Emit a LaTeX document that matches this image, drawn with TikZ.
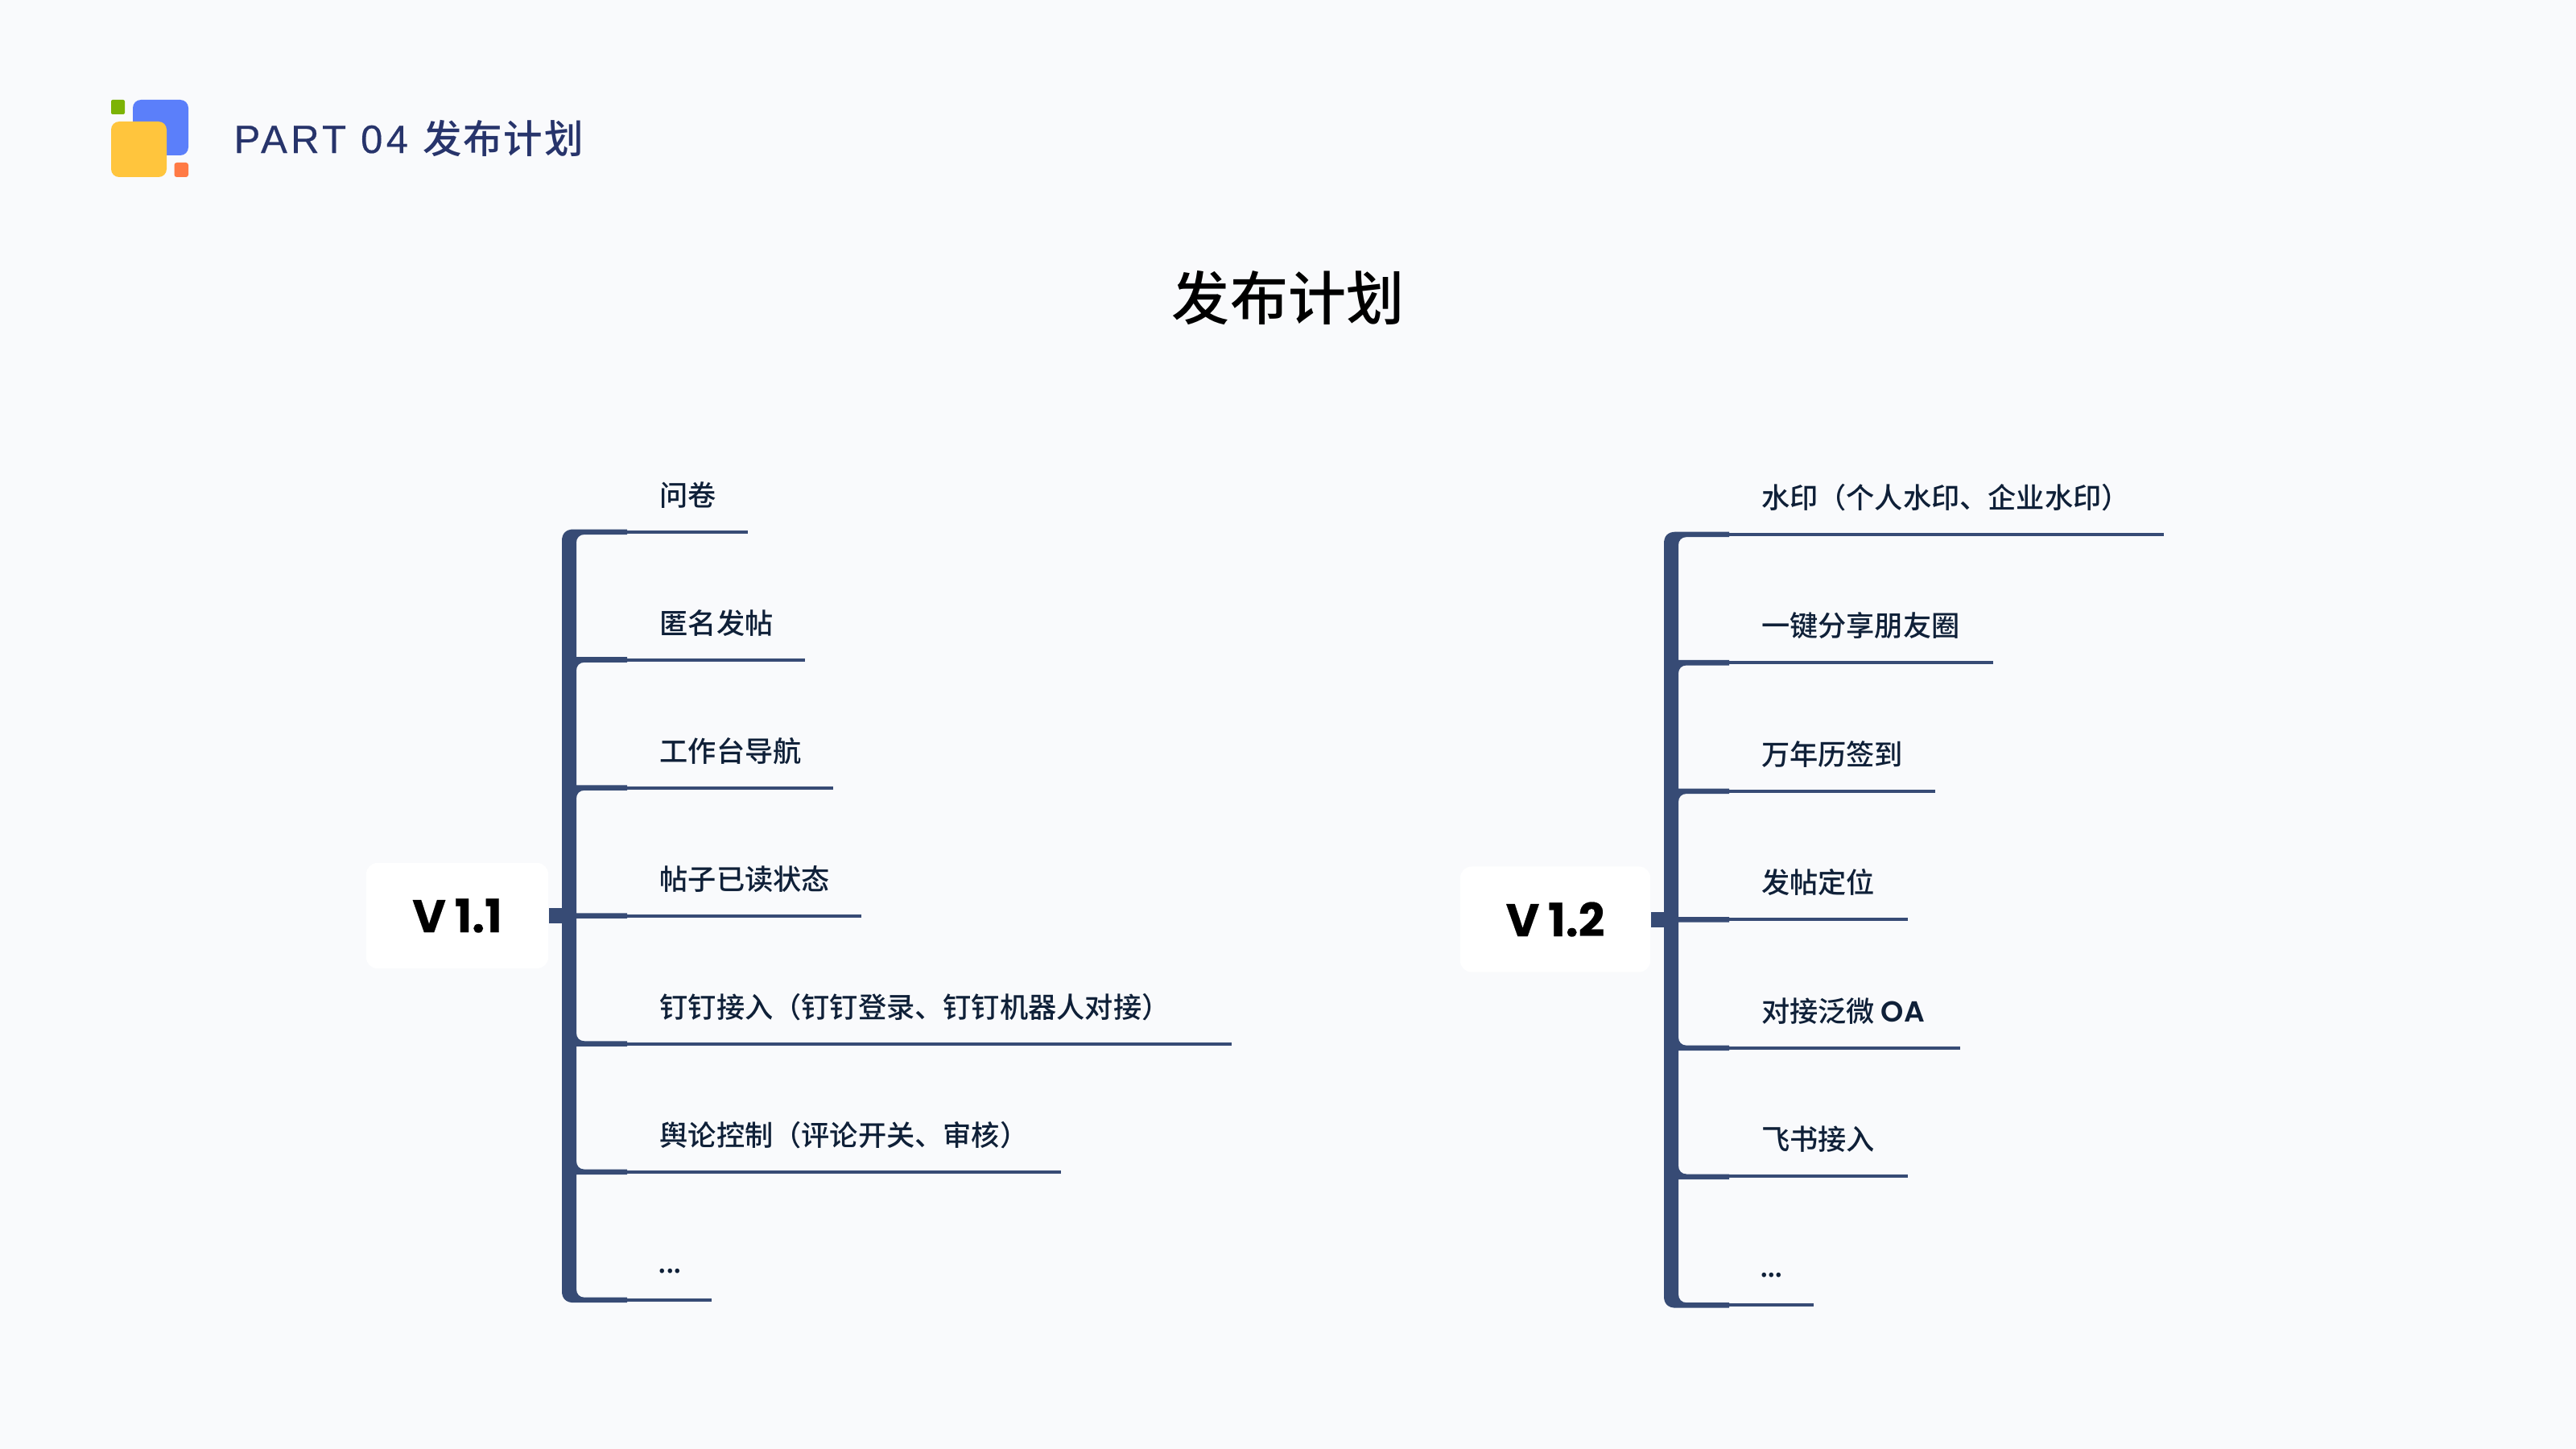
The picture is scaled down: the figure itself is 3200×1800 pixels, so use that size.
\documentclass[tikz,border=0pt]{standalone}
\usepackage{fontspec}
\newfontfamily\cjkm{Noto Sans CJK SC Medium}
\newfontfamily\headfont[LetterSpace=9,FakeBold=0.4]{Liberation Sans}
\newfontfamily\headcjk[LetterSpace=4]{Noto Sans CJK SC Medium}
\newfontfamily\popb[BoldFeatures={FakeBold=0.35}]{Poppins}
\newfontfamily\oafont{Poppins SemiBold}
\newcommand\pxfont[1]{\fontsize{\the\dimexpr 0.02845pt*#1\relax}{\the\dimexpr 0.034pt*#1\relax}\selectfont}
\newcommand\threedots{\kern-0.05em\raisebox{0.04em}{.\kern-0.04em.\kern-0.04em.}}
\definecolor{bgc}{HTML}{F9FAFC}
\definecolor{spinec}{HTML}{374B75}
\definecolor{itemc}{HTML}{0F2038}
\definecolor{headc}{HTML}{27346B}
\definecolor{lblue}{HTML}{5B7FFA}
\definecolor{lyellow}{HTML}{FFC53D}
\definecolor{lgreen}{HTML}{7CB305}
\definecolor{lorange}{HTML}{FF7A45}
\newcommand\treepath{%
 \fill[spinec] (698,672) .. controls (698,662.5) and (703,657.5) .. (713,657.5) -- (779,657.5) -- (779,664) -- (726,664)
  .. controls (720,664) and (716,668) .. (716,674)
  -- (716,816.2) -- (779,816.2) -- (779,822.8) -- (726,822.8) .. controls (720,822.8) and (716,826.8) .. (716,833)
  -- (716,975.3) -- (779,975.3) -- (779,981.8) -- (726,981.8) .. controls (720,981.8) and (716,985.8) .. (716,992)
  -- (716,1134.3) -- (779,1134.3) -- (779,1140.8) -- (716,1140.8)
  -- (716,1283) .. controls (716,1289.3) and (720,1293.3) .. (726,1293.3) -- (779,1293.3) -- (779,1299.8) -- (716,1299.8)
  -- (716,1442) .. controls (716,1448.6) and (720,1452.6) .. (726,1452.6) -- (779,1452.6) -- (779,1459.2) -- (716,1459.2)
  -- (716,1601) .. controls (716,1607.7) and (720,1611.7) .. (726,1611.7) -- (779,1611.7) -- (779,1618.2) -- (713,1618.2)
  .. controls (703,1618.2) and (698,1613) .. (698,1604) -- cycle;}
\begin{document}
\begin{tikzpicture}[x=0.01cm,y=-0.01cm,
  rootbox/.style={fill=white,rounded corners=0.14cm,inner sep=0pt,text=black,font=\popb\bfseries\pxfont{570}},
  item/.style={anchor=base west,inner sep=0pt,text=itemc,font=\cjkm\pxfont{352}},
  thinline/.style={draw=spinec,line width=0.04cm},
  stub/.style={draw=spinec,line width=0.19cm}]
\useasboundingbox (0,0) rectangle (3200,1800);
\fill[bgc] (0,0) rectangle (3200,1800);
% logo
\fill[lgreen,rounded corners=0.02cm] (138,124) rectangle (155,142);
\fill[lblue,rounded corners=0.1cm] (165,124) rectangle (234,193);
\fill[lyellow,rounded corners=0.1cm] (138,151) rectangle (207,220);
\fill[lorange,rounded corners=0.03cm] (216.5,202) rectangle (234,220);
\node[anchor=base west,inner sep=0pt,text=headc] (head) at (290,190) {\headfont\pxfont{490}PART 04 \headcjk\pxfont{485}发布计划};
\node[inner sep=0pt,text=black] (title) at (1600,370) {\cjkm\pxfont{720}发布计划};
% left tree
\treepath
\coordinate (ls) at (698,1137.5);
\node[rootbox,minimum width=2.26cm,minimum height=1.31cm] (v11) at (568,1137.5) {V\kern-0.02em\ 1.1};
\draw[stub] (v11.east) -- (ls);
\foreach \i/\t/\e in {0/问卷/929,1/匿名发帖/1000,2/工作台导航/1035,3/帖子已读状态/1070,4/钉钉接入（钉钉登录、钉钉机器人对接）/1530,5/舆论控制（评论开关、审核）/1318,6/\threedots/884}{
  \pgfmathsetmacro\yy{660.5+159.05*\i}
  \coordinate (la\i) at (779,\yy);
  \coordinate (lb\i) at (\e,\yy);
  \node[item] (lt\i) at (819,\yy-32) {\t};
  \draw[thinline] (la\i) -- (lb\i);
}
% right tree
\begin{scope}[shift={(1369,1142.3)},yscale=1.0035,shift={(0,-1137.5)}]
\treepath
\end{scope}
\coordinate (rs) at (2067,1142);
\node[rootbox,minimum width=2.36cm,minimum height=1.31cm] (v12) at (1932,1142) {V\kern-0.02em\ 1.2};
\draw[stub] (v12.east) -- (rs);
\foreach \i/\t/\e in {0/水印（个人水印、企业水印）/2688,1/一键分享朋友圈/2476,2/万年历签到/2404,3/发帖定位/2370,4/{对接泛微 {\oafont\pxfont{360}OA}}/2435,5/飞书接入/2370,6/\threedots/2253}{
  \pgfmathsetmacro\yy{663.7+159.55*\i}
  \pgfmathsetmacro\xa{2148}
  \coordinate (ra\i) at (\xa,\yy);
  \coordinate (rb\i) at (\e,\yy);
  \node[item] (rt\i) at (2187.3,\yy-32.7) {\t};
  \draw[thinline] (ra\i) -- (rb\i);
}
\end{tikzpicture}
\end{document}
